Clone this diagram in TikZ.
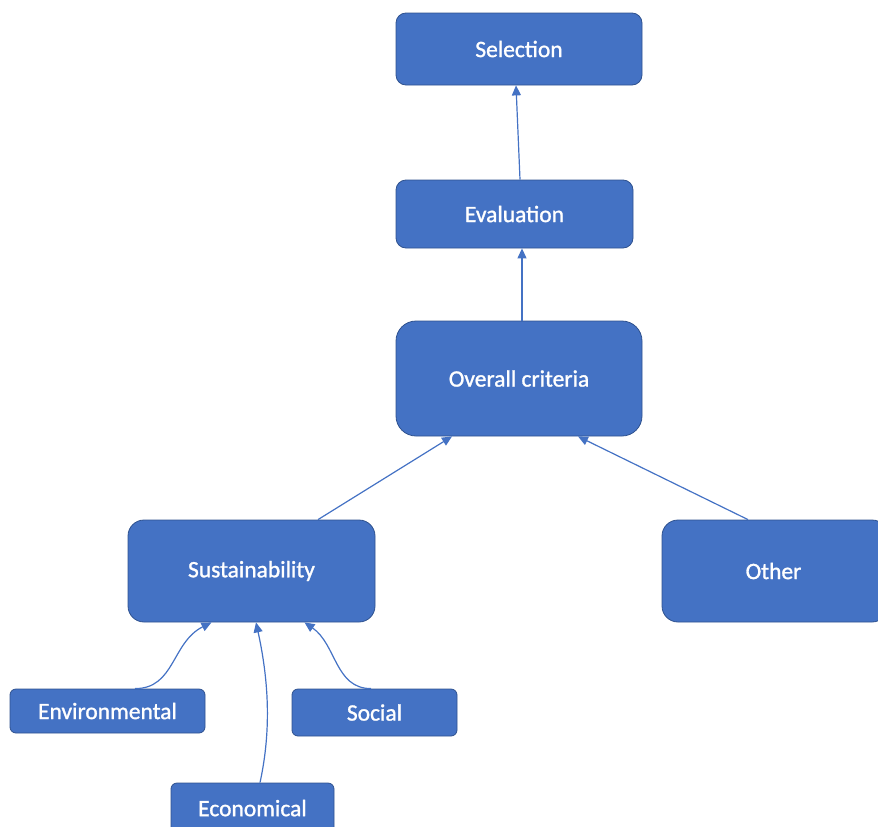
\documentclass[tikz,border=0pt]{standalone}
\usepackage{fontspec}
\setmainfont{Carlito}
\newfontfamily\lblfont{Carlito}[BoldFont=Carlito,BoldFeatures={FakeBold=1.2}]
\usetikzlibrary{arrows.meta,calc}
\definecolor{boxblue}{HTML}{4472C4}
\definecolor{boxedge}{HTML}{2F528F}
\tikzset{
  box/.style={draw=boxedge,line width=0.8pt,fill=boxblue,text=white,
    font=\lblfont\bfseries\fontsize{23.5}{27}\selectfont,inner sep=0pt,rectangle},
  conn/.style={draw=boxblue,line width=1.2pt,-{Triangle[length=10pt,width=9pt]}}
}
\begin{document}
\begin{tikzpicture}[x=1pt,y=1pt]
\useasboundingbox (0,0) rectangle (878,-827);
\node[box,rounded corners=10pt,minimum width=246pt,minimum height=72pt] (sel) at (519,-49) {Selection};
\node[box,rounded corners=10pt,minimum width=237pt,minimum height=68pt] (eva) at (514.5,-214) {Evaluation};
\node[box,rounded corners=20pt,minimum width=246pt,minimum height=115pt] (ov) at (519,-378.5) {Overall criteria};
\node[box,rounded corners=16pt,minimum width=247pt,minimum height=102pt] (sus) at (251.5,-571) {\raisebox{-2pt}{Sustainability}};
\node[box,rounded corners=16pt,minimum width=226pt,minimum height=102pt] (oth) at (775,-571) {\hspace*{-3pt}Other};
\node[box,rounded corners=6pt,minimum width=195pt,minimum height=44pt] (env) at (107.5,-711) {Environmental};
\node[box,rounded corners=6pt,minimum width=165pt,minimum height=47pt] (soc) at (374.5,-712.5) {Social};
\node[box,rounded corners=6pt,minimum width=163pt,minimum height=54pt] (eco) at (252.5,-810) {\raisebox{4pt}{Economical}};
\draw[conn] ($(eva.north)+(5.5,0)$) -- ($(sel.south)+(-3,0)$);
\draw[conn] ($(ov.north)+(3,0)$) -- ($(eva.south)+(7.5,0)$);
\draw[conn] ($(sus.north)+(66.5,0)$) -- ($(ov.south)+(-67,0)$);
\draw[conn] ($(oth.north)+(-27,0)$) -- ($(ov.south)+(59,0)$);
\draw[conn] ($(env.north)+(27.5,0)$) .. controls +(40,0) and +(-40,-20) .. ($(sus.south)+(-40,0)$);
\draw[conn] ($(soc.north)+(-3.5,0)$) .. controls +(-36,0) and +(32,-22) .. ($(sus.south)+(53,0)$);
\draw[conn] ($(eco.north)+(7.5,0)$) .. controls +(12,55) and +(12,-55) .. ($(sus.south)+(4.5,0)$);
\end{tikzpicture}
\end{document}
